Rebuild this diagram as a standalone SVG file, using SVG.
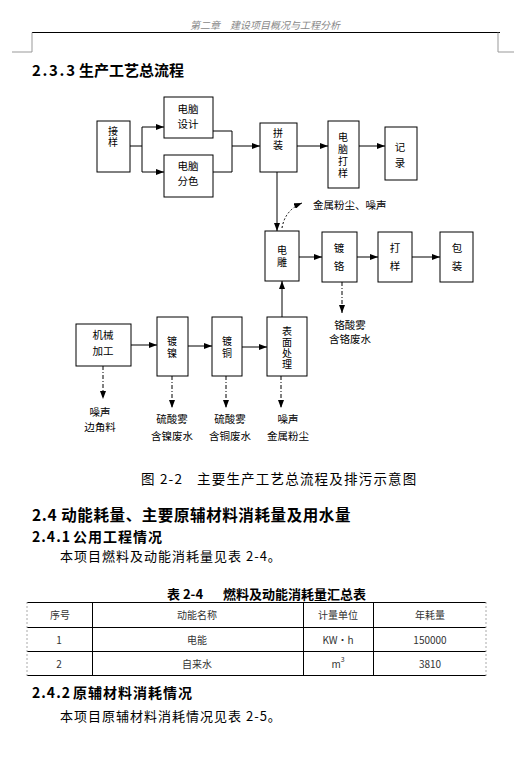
<svg xmlns="http://www.w3.org/2000/svg" width="514" height="770" viewBox="0 0 514 770">
<style>
.bg{fill:#fff}
.box{fill:#fff;stroke:#000;stroke-width:1}
.ft{font-family:"Liberation Sans","Noto Sans CJK SC",sans-serif;font-size:10.5px;fill:#000;text-anchor:middle;dominant-baseline:central}
.fv{font-family:"Liberation Sans","Noto Sans CJK SC",sans-serif;font-size:10px;fill:#000;text-anchor:middle;dominant-baseline:central}
.lb{font-family:"Liberation Sans","Noto Sans CJK SC",sans-serif;font-size:10.5px;fill:#000;dominant-baseline:central}
.ln{stroke:#000;stroke-width:1;fill:none}
.dd{stroke:#000;stroke-width:1;fill:none;stroke-dasharray:4 2 1 2}
.dt{stroke:#000;stroke-width:1;fill:none;stroke-dasharray:2 2}
.h1{font-family:"Noto Sans CJK SC",sans-serif;font-weight:bold;fill:#000;dominant-baseline:central}
.body{font-family:"Noto Sans CJK SC",sans-serif;font-size:13px;fill:#000;dominant-baseline:central;letter-spacing:1px}
.cell{font-family:"Noto Sans CJK SC",sans-serif;font-size:10px;fill:#333;text-anchor:middle;dominant-baseline:central}
.tl{stroke:#000;stroke-width:1}
</style>
<defs>
<marker id="ah" markerUnits="userSpaceOnUse" markerWidth="8" markerHeight="6" refX="8" refY="3" orient="auto">
<path d="M0,0 L8,3 L0,6 z" fill="#000"/>
</marker>
</defs>
<rect class="bg" x="0" y="0" width="514" height="770"/>

<!-- page header -->
<g id="header">
<text x="265" y="24" font-family="Noto Sans CJK SC,sans-serif" font-size="10" font-style="italic" fill="#888" text-anchor="middle" dominant-baseline="central">第二章　建设项目概况与工程分析</text>
<line x1="32" y1="32.5" x2="500" y2="32.5" stroke="#000" stroke-width="1"/>
<polyline points="32,32.5 32,52 12,52" fill="none" stroke="#999" stroke-width="1"/>
<polyline points="498,32.5 498,52 514,52" fill="none" stroke="#999" stroke-width="1"/>
</g>

<text class="h1" font-size="15" y="69"><tspan x="32" textLength="43" lengthAdjust="spacing">2.3.3</tspan><tspan x="79">生产工艺总流程</tspan></text>

<!-- connectors -->
<g id="connectors">
<polyline class="ln" points="130,146 142,146"/>
<polyline class="ln" points="142,127 142,172"/>
<line class="ln" x1="142" y1="127" x2="164" y2="127" marker-end="url(#ah)"/>
<line class="ln" x1="142" y1="172" x2="164" y2="172" marker-end="url(#ah)"/>
<polyline class="ln" points="213,131 232,131 232,172 213,172"/>
<line class="ln" x1="232" y1="146" x2="260" y2="146" marker-end="url(#ah)"/>
<line class="ln" x1="297" y1="146" x2="328" y2="146" marker-end="url(#ah)"/>
<line class="ln" x1="359" y1="146" x2="385" y2="146" marker-end="url(#ah)"/>
<line class="ln" x1="277" y1="172" x2="277" y2="231" marker-end="url(#ah)"/>
<path class="dt" d="M282,228 Q285,210 302,203" marker-end="url(#ah)"/>
<line class="ln" x1="299" y1="257" x2="322" y2="257" marker-end="url(#ah)"/>
<line class="ln" x1="357" y1="257" x2="378" y2="257" marker-end="url(#ah)"/>
<line class="ln" x1="412" y1="257" x2="440" y2="257" marker-end="url(#ah)"/>
<line class="dd" x1="342" y1="282" x2="342" y2="313" marker-end="url(#ah)"/>
<line class="ln" x1="282" y1="317" x2="282" y2="281" marker-end="url(#ah)"/>
<line class="ln" x1="131" y1="345" x2="157" y2="345" marker-end="url(#ah)"/>
<line class="ln" x1="188" y1="346" x2="212" y2="346" marker-end="url(#ah)"/>
<line class="ln" x1="242" y1="347" x2="267" y2="347" marker-end="url(#ah)"/>
<line class="dd" x1="103" y1="366" x2="103" y2="399" marker-end="url(#ah)"/>
<line class="dd" x1="172" y1="376" x2="172" y2="408" marker-end="url(#ah)"/>
<line class="dd" x1="226" y1="376" x2="226" y2="408" marker-end="url(#ah)"/>
<line class="dd" x1="281" y1="376" x2="281" y2="408" marker-end="url(#ah)"/>
</g>

<!-- nodes -->
<g id="n-jieyang"><rect class="box" x="97" y="121" width="33" height="51"/><text class="fv" x="113" y="131">接</text><text class="fv" x="113" y="142">样</text></g>
<g id="n-sheji"><rect class="box" x="164" y="97" width="49" height="41"/><text class="ft" x="188" y="109">电脑</text><text class="ft" x="188" y="124">设计</text></g>
<g id="n-fense"><rect class="box" x="164" y="155" width="49" height="42"/><text class="ft" x="188" y="166">电脑</text><text class="ft" x="188" y="181">分色</text></g>
<g id="n-pinzhuang"><rect class="box" x="260" y="123" width="37" height="49"/><text class="fv" x="278" y="133">拼</text><text class="fv" x="278" y="145">装</text></g>
<g id="n-dayang1"><rect class="box" x="328" y="121" width="31" height="67"/><text class="fv" x="343" y="137">电</text><text class="fv" x="343" y="149">脑</text><text class="fv" x="343" y="161">打</text><text class="fv" x="343" y="173">样</text></g>
<g id="n-jilu"><rect class="box" x="385" y="127" width="32" height="53"/><text class="ft" x="400" y="147">记</text><text class="ft" x="400" y="163">录</text></g>
<g id="n-diandiao"><rect class="box" x="265" y="231" width="34" height="50"/><text class="fv" x="282" y="250">电</text><text class="fv" x="282" y="262">雕</text></g>
<g id="n-duge"><rect class="box" x="322" y="232" width="35" height="50"/><text class="ft" x="339" y="248">镀</text><text class="ft" x="339" y="266">铬</text></g>
<g id="n-dayang2"><rect class="box" x="378" y="232" width="34" height="50"/><text class="ft" x="395" y="248">打</text><text class="ft" x="395" y="266">样</text></g>
<g id="n-baozhuang"><rect class="box" x="440" y="232" width="33" height="50"/><text class="ft" x="457" y="248">包</text><text class="ft" x="457" y="266">装</text></g>
<g id="n-jixie"><rect class="box" x="76" y="324" width="55" height="42"/><text class="ft" x="103" y="335">机械</text><text class="ft" x="103" y="351">加工</text></g>
<g id="n-dunie"><rect class="box" x="157" y="317" width="31" height="59"/><text class="fv" x="172" y="341">镀</text><text class="fv" x="172" y="353">镍</text></g>
<g id="n-dutong"><rect class="box" x="212" y="317" width="30" height="59"/><text class="fv" x="227" y="341">镀</text><text class="fv" x="227" y="353">铜</text></g>
<g id="n-biaomian"><rect class="box" x="267" y="317" width="40" height="59"/><text class="fv" x="287" y="331">表</text><text class="fv" x="287" y="342">面</text><text class="fv" x="287" y="353">处</text><text class="fv" x="287" y="364">理</text></g>

<!-- emission labels -->
<g id="labels">
<text class="lb" x="313" y="205">金属粉尘、噪声</text>
<text class="ft" x="350" y="325">铬酸雾</text>
<text class="ft" x="350" y="339">含铬废水</text>
<text class="ft" x="100" y="412">噪声</text>
<text class="ft" x="100" y="427">边角料</text>
<text class="ft" x="172" y="419">硫酸雾</text>
<text class="ft" x="172" y="436">含镍废水</text>
<text class="ft" x="230" y="419">硫酸雾</text>
<text class="ft" x="230" y="436">含铜废水</text>
<text class="ft" x="288" y="419">噪声</text>
<text class="ft" x="288" y="436">金属粉尘</text>
</g>

<text font-family="Noto Sans CJK SC,sans-serif" font-size="13.5" fill="#000" dominant-baseline="central" letter-spacing="1.2" y="478"><tspan x="141">图 2-2</tspan><tspan x="197">主要生产工艺总流程及排污示意图</tspan></text>

<text class="h1" font-size="15.5" letter-spacing="0.6" x="32" y="514">2.4 动能耗量、主要原辅材料消耗量及用水量</text>
<text class="h1" font-size="14" letter-spacing="1" y="536"><tspan x="32" textLength="39" lengthAdjust="spacing">2.4.1</tspan><tspan x="73">公用工程情况</tspan></text>
<text class="body" x="60" y="555">本项目燃料及动能消耗量见表 2-4。</text>

<text class="h1" font-size="13" y="593"><tspan x="167">表 2-4</tspan><tspan x="223">燃料及动能消耗量汇总表</tspan></text>

<g id="table">
<line class="tl" x1="27" y1="602.5" x2="486" y2="602.5"/>
<line class="tl" x1="27" y1="627.5" x2="486" y2="627.5"/>
<line class="tl" x1="27" y1="651.5" x2="486" y2="651.5"/>
<line class="tl" x1="27" y1="675.5" x2="486" y2="675.5"/>
<line x1="27" y1="602" x2="27" y2="676" stroke="#aaa" stroke-width="1" stroke-dasharray="2 2"/>
<line x1="486" y1="602" x2="486" y2="676" stroke="#aaa" stroke-width="1" stroke-dasharray="2 2"/>
<line class="tl" x1="92.5" y1="602" x2="92.5" y2="676"/>
<line class="tl" x1="303.5" y1="602" x2="303.5" y2="676"/>
<line class="tl" x1="373.5" y1="602" x2="373.5" y2="676"/>
<text class="cell" x="60" y="614">序号</text>
<text class="cell" x="197" y="614">动能名称</text>
<text class="cell" x="338" y="614">计量单位</text>
<text class="cell" x="430" y="614">年耗量</text>
<text class="cell" x="59" y="639">1</text>
<text class="cell" x="197" y="639">电能</text>
<text class="cell" x="338" y="639" font-family="Liberation Mono,monospace">KW·h</text>
<text class="cell" x="430" y="639">150000</text>
<text class="cell" x="59" y="663">2</text>
<text class="cell" x="197" y="663">自来水</text>
<text class="cell" x="338" y="663" font-family="Liberation Serif,serif">m<tspan font-size="7" dy="-4">3</tspan></text>
<text class="cell" x="430" y="663">3810</text>
</g>

<text class="h1" font-size="14" letter-spacing="1" y="692"><tspan x="32" textLength="39" lengthAdjust="spacing">2.4.2</tspan><tspan x="73">原辅材料消耗情况</tspan></text>
<text class="body" x="60" y="715">本项目原辅材料消耗情况见表 2-5。</text>
</svg>
